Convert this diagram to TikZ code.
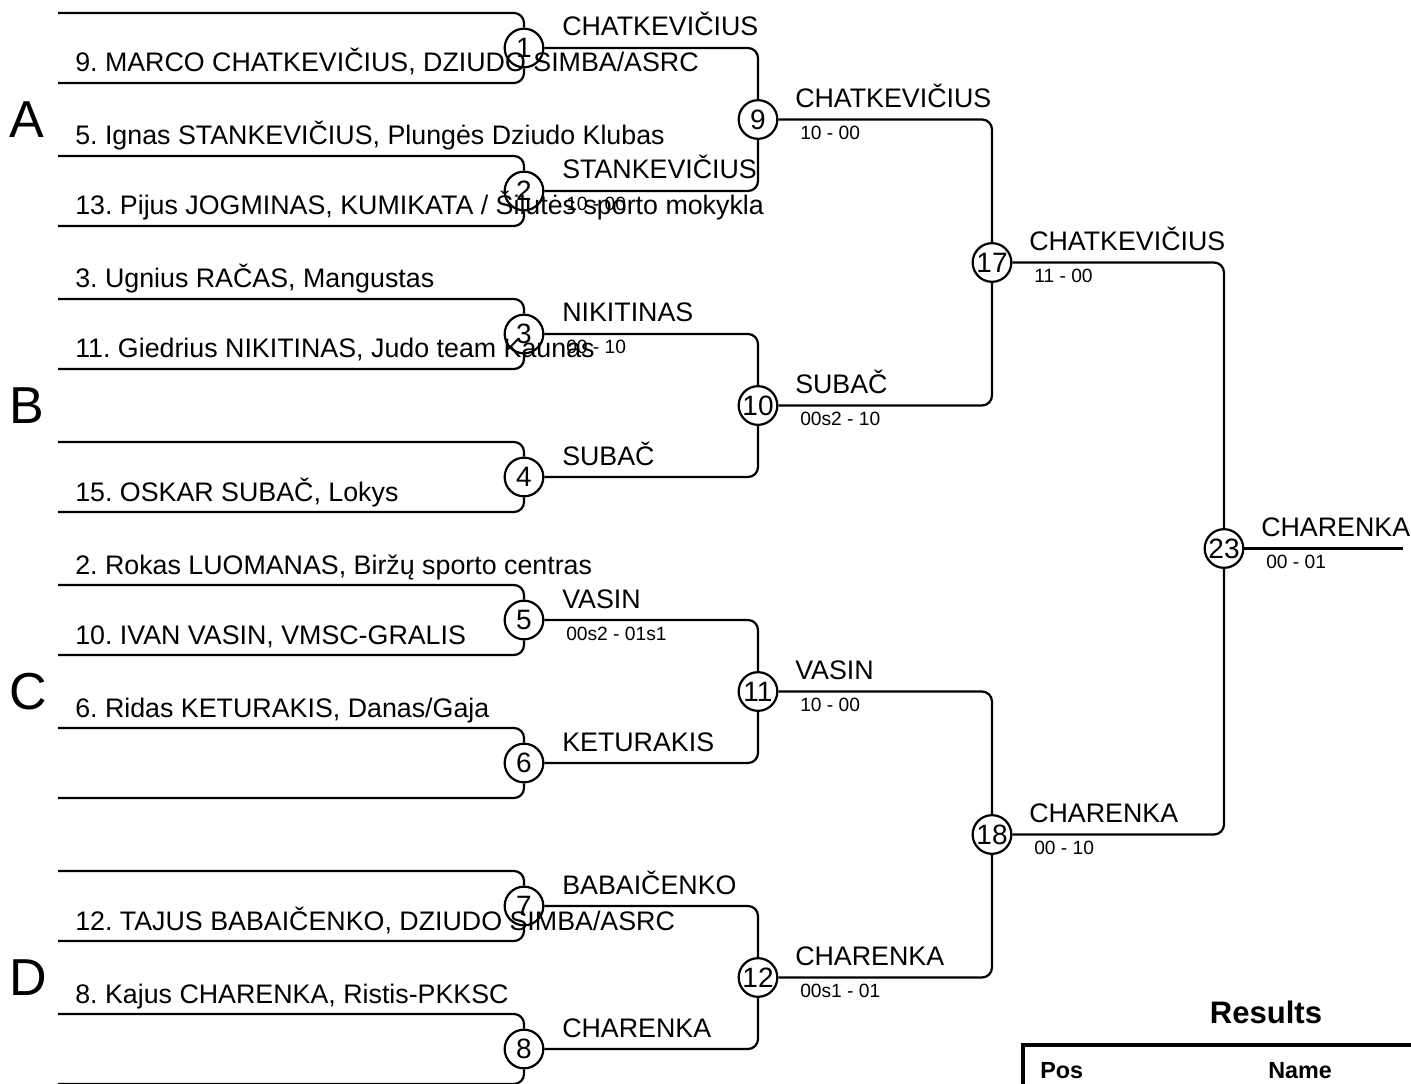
\documentclass[tikz,border=0pt]{standalone}
\usepackage{fontspec}
\setmainfont{Liberation Sans}
\frenchspacing
\newcommand{\firstMatch}[4]{%
  \node[mc] (m#1) at (524,#2) {#1};
  \coordinate (t#1) at (58,#2-35);
  \coordinate (b#1) at (58,#2+35);
  \draw[ln] (t#1) -| (m#1.north);
  \draw[ln] (b#1) -| (m#1.south);
  \node[nm] (w#1) at (562,#2-12) {#3};
  \node[sc] (s#1) at (566,#2+20) {#4};
}
\newcommand{\laterMatch}[7]{%
  \node[mc] (m#1) at (#2,#3) {#1};
  \draw[ln] (m#4.east) -| (m#1.north);
  \draw[ln] (m#5.east) -| (m#1.south);
  \node[nm] (w#1) at (#2+37,#3-12) {#6};
  \node[sc] (s#1) at (#2+42,#3+20) {#7};
}
\begin{document}
\begin{tikzpicture}[x=0.75pt,y=-0.75pt,
  ln/.style={line width=1.65pt, rounded corners=7.5pt},
  mc/.style={circle, draw, line width=1.65pt, minimum size=29pt, inner sep=0pt, font=\fontsize{21}{21}\selectfont},
  nm/.style={anchor=base west, inner sep=0pt, font=\fontsize{20.1}{21}\selectfont},
  sc/.style={anchor=base west, inner sep=0pt, font=\fontsize{14.4}{15}\selectfont},
  grp/.style={anchor=base west, inner sep=0pt, font=\fontsize{39}{40}\selectfont},
  hd/.style={inner sep=0pt, font=\bfseries\fontsize{23.3}{24}\selectfont},
  th/.style={anchor=base west, inner sep=0pt, font=\bfseries\fontsize{17.5}{18}\selectfont}]
\useasboundingbox (0,0) rectangle (1411,1084);

% round 1
\firstMatch{1}{48}{CHATKEVIČIUS}{}
\firstMatch{2}{191}{STANKEVIČIUS}{10 - 00}
\firstMatch{3}{334}{NIKITINAS}{00 - 10}
\firstMatch{4}{477}{SUBAČ}{}
\firstMatch{5}{620}{VASIN}{00s2 - 01s1}
\firstMatch{6}{763}{KETURAKIS}{}
\firstMatch{7}{906}{BABAIČENKO}{}
\firstMatch{8}{1049}{CHARENKA}{}

% competitor names
\node[nm] (p1b) at (75,72) {9. MARCO CHATKEVIČIUS, DZIUDO SIMBA/ASRC};
\node[nm] (p2a) at (75,145) {5. Ignas STANKEVIČIUS, Plungės Dziudo Klubas};
\node[nm] (p2b) at (75,215) {13. Pijus JOGMINAS, KUMIKATA / Šilutės sporto mokykla};
\node[nm] (p3a) at (75,288) {3. Ugnius RAČAS, Mangustas};
\node[nm] (p3b) at (75,358) {11. Giedrius NIKITINAS, Judo team Kaunas};
\node[nm] (p4b) at (75,501) {15. OSKAR SUBAČ, Lokys};
\node[nm] (p5a) at (75,574) {2. Rokas LUOMANAS, Biržų sporto centras};
\node[nm] (p5b) at (75,644) {10. IVAN VASIN, VMSC-GRALIS};
\node[nm] (p6a) at (75,717) {6. Ridas KETURAKIS, Danas/Gaja};
\node[nm] (p7b) at (75,930) {12. TAJUS BABAIČENKO, DZIUDO SIMBA/ASRC};
\node[nm] (p8a) at (75,1003) {8. Kajus CHARENKA, Ristis-PKKSC};

% group letters
\node[grp] (gA) at (9,137.5) {A};
\node[grp] (gB) at (9,423.5) {B};
\node[grp] (gC) at (9,709.5) {C};
\node[grp] (gD) at (9,995.5) {D};

% round 2
\laterMatch{9}{758}{119.5}{1}{2}{CHATKEVIČIUS}{10 - 00}
\laterMatch{10}{758}{405.5}{3}{4}{SUBAČ}{00s2 - 10}
\laterMatch{11}{758}{691.5}{5}{6}{VASIN}{10 - 00}
\laterMatch{12}{758}{977.5}{7}{8}{CHARENKA}{00s1 - 01}
% round 3
\laterMatch{17}{992}{262.5}{9}{10}{CHATKEVIČIUS}{11 - 00}
\laterMatch{18}{992}{834.5}{11}{12}{CHARENKA}{00 - 10}
% final
\laterMatch{23}{1224}{548.5}{17}{18}{CHARENKA}{00 - 01}
\coordinate (fin) at (1403,548.5);
\draw[ln] (m23.east) -- (fin);

% results
\node[hd] (res) at (1266,1012) {Results};
\draw[line width=3.4pt] (1023,1110) |- (1430,1045);
\node[th] (pos) at (1040,1078) {Pos};
\node[th] (nam) at (1268,1078) {Name};
\end{tikzpicture}
\end{document}
